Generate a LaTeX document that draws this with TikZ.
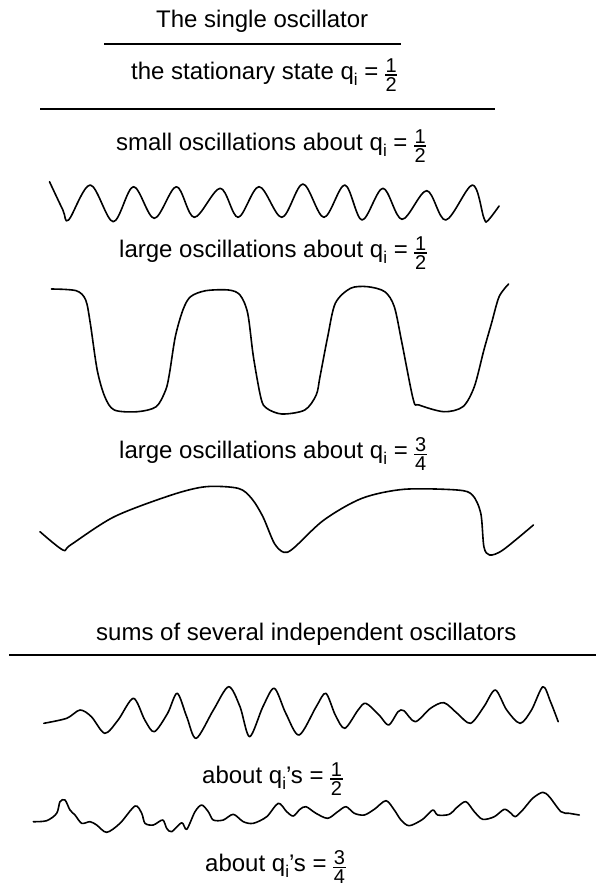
\documentclass[tikz,border=0pt]{standalone}
\usepackage{fontspec}
\setmainfont{Liberation Sans}
\newcommand\fr[2]{\raisebox{-12.5pt}{\vbox{\hbox{\kern0.6pt\fontsize{20}{20}\selectfont #1\kern0.6pt}\kern2pt\hrule height 1.2pt\kern2pt\hbox{\kern0.6pt\fontsize{20}{20}\selectfont #2\kern0.6pt}}}}
\newcommand\subi{\raisebox{-6.5pt}{\fontsize{17}{17}\selectfont i}}
\begin{document}
\begin{tikzpicture}[x=1pt,y=-1pt,
  wave/.style={line width=1.6pt, line join=round, line cap=round},
  rulel/.style={line width=1.8pt},
  txt/.style={anchor=base west, inner sep=0pt, font=\fontsize{24}{28}\selectfont}]
\useasboundingbox[fill=white] (0,0) rectangle (596,887);

\node[txt] (title) at (156,27) {The single oscillator};
\coordinate (l1a) at (104,44); \coordinate (l1b) at (401,44);
\draw[line width=1.5pt] (l1a) -- (l1b);
\node[txt] (stat) at (131,79) {the stationary state q\subi{} = \fr{1}{2}};
\coordinate (l2a) at (40,109); \coordinate (l2b) at (495,109);
\draw[rulel] (l2a) -- (l2b);

\node[txt] (small) at (116,150) {small oscillations about q\subi{} = \fr{1}{2}};
\draw[wave] plot[smooth, tension=0.55] coordinates {
(49.5,181.7) (62.9,210) (68.6,220) (90.3,185) (113.2,221.7) (133.4,186.7) (154.3,218.3)
(176.4,186.7) (194.3,217.3) (220.2,188.3) (238.1,217.3) (259.1,186.7) (281.9,217.3)
(302.9,184) (323.9,217.3) (344.8,185) (362,220) (382.9,188.3) (402,219.3) (426.7,190.7)
(445.8,220) (472.4,185) (483.9,218) (487.7,220.7) (499.1,206)};

\node[txt] (large1) at (119,257) {large oscillations about q\subi{} = \fr{1}{2}};
\draw[wave] plot[smooth, tension=0.5] coordinates {
(51.4,289) (76.2,290.7) (85.7,300) (90.3,323.3) (97.2,370) (104.8,396.7) (114.3,410)
(137.2,411.7) (156.2,406.7) (165.7,390) (169.5,373.3) (175.3,336.7) (182.9,310)
(190.5,296.7) (205.7,290.7) (228.6,290) (240,295) (247.7,313.3) (253.4,356.7) (261,398.3)
(266.7,408.3) (281.9,414) (304.8,410) (316.2,395) (320,376.7) (327.7,336.7) (335.3,303.3)
(350.5,288.3) (367.7,286.7) (384.8,291.7) (394.3,306.7) (402,343.3) (413.4,400)
(419.1,405) (443.9,411.7) (462.9,406.7) (474.3,386.7) (483.9,350) (491.5,323.3)
(499.1,296.7) (508.6,284)};

\node[txt] (large3) at (119,458) {large oscillations about q\subi{} = \fr{3}{4}};
\draw[wave] plot[smooth, tension=0.5] coordinates {
(40,531.7) (62.9,550) (70.5,545) (114.3,516.7) (171.5,495) (205.7,486.7) (238.1,488.3)
(251.5,498.3) (262.9,516.7) (274.3,543.3) (283.8,552.3) (293.4,548.3) (323.9,520)
(362,498.3) (403.9,489.3) (457.2,490) (472.4,495) (480.8,513.3) (483.9,546.7)
(489.6,555) (502.9,550) (533.4,525)};

\node[txt] (sums) at (96,640) {sums of several independent oscillators};
\coordinate (l3a) at (9,655); \coordinate (l3b) at (596,655);
\draw[rulel] (l3a) -- (l3b);

\draw[wave] plot[smooth, tension=0.5] coordinates {
(43.8,723.3) (66.7,718.3) (80,710) (91.4,716.7) (104.8,733.3) (118.1,720) (133.4,698.3)
(144.8,720) (154.3,731.7) (167.6,713.3) (177.2,693.3) (186.7,716.7) (196.2,738.3)
(213.4,710) (228.6,686.7) (240,706.7) (249.6,736.7) (262.9,706.7) (274.3,688.3)
(285.8,713.3) (299.1,735) (316.2,706.7) (325.8,693.3) (335.3,715) (344.8,728.3)
(358.1,710) (365.8,703.3) (379.1,715) (388.6,725) (398.1,711.7) (403.9,710.7)
(415.3,721.7) (430.5,708.3) (443.9,702.7) (457.2,713.3) (470.5,723.3) (483.9,706.7)
(495.3,690) (506.7,710) (520.1,723.3) (531.5,710) (542.9,686.7) (550.5,701.7) (558.2,721.7)};

\node[txt] (about1) at (202,783) {about q\subi{}’s = \fr{1}{2}};

\draw[wave] plot[smooth, tension=0.5] coordinates {
(33.3,821.7) (46.7,820.7) (56.7,813.3) (60,801.7) (65,800) (70,810) (75,815) (81.7,823.3)
(90,821.7) (96.7,825) (106.7,832.3) (120,823.3) (135,806) (141.7,813.3) (145,823.3)
(153.3,825) (162.7,820) (166.7,828.3) (171.7,831.7) (181.7,822.7) (186.7,829.3)
(195,811.7) (201.7,805) (208.3,811.7) (213.3,820) (223.3,820) (233.3,814.3) (243.3,821.7)
(253.3,823.3) (266.7,816.7) (278.3,803.3) (286.7,811.7) (293.3,816) (300,809.3)
(306,806.7) (316,813.3) (327.7,818.3) (337.7,811.7) (346,806.7) (354.3,813.3)
(364.3,815) (374.3,809.3) (386,800.7) (394.3,810) (401,820) (409.3,825.7) (422.7,819.3)
(432.7,810) (437.7,815) (449.3,814.3) (457.7,806.7) (466,801.7) (474.3,811.7)
(482.7,819.3) (494.3,816.7) (504.3,809.3) (511,813.3) (515.3,816.7) (522.7,810)
(532.7,798.3) (542.7,792.3) (549.3,796.7) (561,811.7) (569.3,813.3) (579.3,815)};

\node[txt] (about3) at (205,871) {about q\subi{}’s = \fr{3}{4}};
\end{tikzpicture}
\end{document}
